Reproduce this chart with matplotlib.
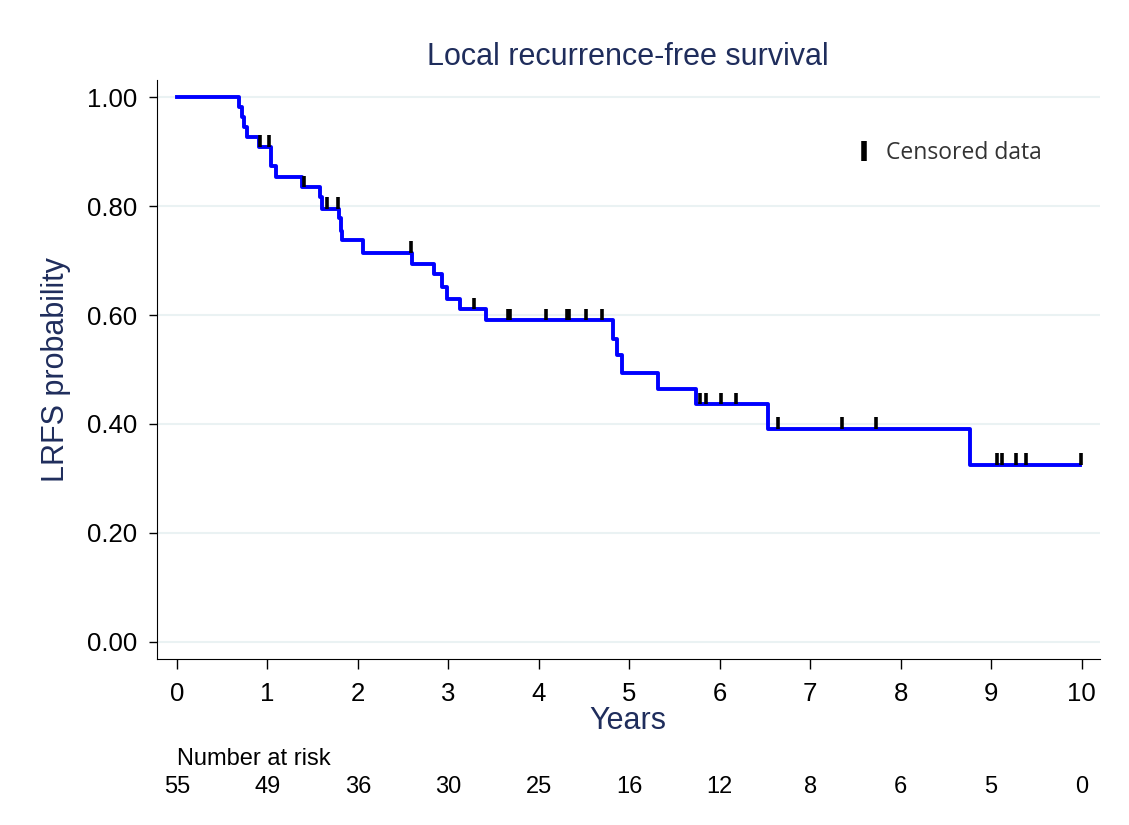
import numpy as np
import matplotlib
matplotlib.use('Agg')
import matplotlib.pyplot as plt
from matplotlib.lines import Line2D

plt.rcParams['font.family'] = ['Liberation Sans', 'DejaVu Sans']

# Curva de supervivencia (tiempos de evento y probabilidad tras cada evento)
event_times = [0, 0.69, 0.72, 0.74, 0.78, 0.91, 1.04, 1.10, 1.38, 1.58, 1.60,
               1.79, 1.82, 1.83, 2.06, 2.60, 2.84, 2.93, 2.99, 3.13, 3.42,
               4.82, 4.87, 4.92, 5.32, 5.74, 6.53, 8.77]
survival = [1.0, 0.982, 0.964, 0.945, 0.927, 0.909, 0.873, 0.854, 0.835, 0.817,
            0.795, 0.778, 0.755, 0.737, 0.714, 0.693, 0.676, 0.651, 0.630,
            0.611, 0.590, 0.556, 0.526, 0.494, 0.464, 0.436, 0.391, 0.325]
end_time = 9.98

# Datos censurados
censor_times = [0.92, 1.02, 1.41, 1.66, 1.78, 2.59, 3.28, 3.66, 3.68, 4.08,
                4.31, 4.33, 4.52, 4.70, 5.78, 5.85, 6.02, 6.18, 6.64, 7.35,
                7.73, 9.06, 9.12, 9.28, 9.39, 9.99]

# Tabla de pacientes en riesgo
risk_years = list(range(11))
at_risk = [55, 49, 36, 30, 25, 16, 12, 8, 6, 5, 0]

navy = '#1f2d5c'

fig = plt.figure(figsize=(11.29, 8.25), dpi=100)
ax = fig.add_axes([0.139, 0.2008, 0.835, 0.702])

# Curva escalonada
xs = event_times + [end_time]
ys = survival + [survival[-1]]
ax.step(xs, ys, where='post', color='#0000ff', linewidth=2.8, zorder=3)

# Marcas de censura (desde el nivel de la curva hacia arriba)
idx = np.searchsorted(event_times, censor_times, side='right') - 1
censor_levels = np.array(survival)[idx]
ax.vlines(censor_times, censor_levels, censor_levels + 0.021,
          color='black', linewidth=2.6, zorder=4)

ax.set_xlim(-0.22, 10.2)
ax.set_ylim(-0.032, 1.031)
ax.set_xticks(risk_years)
ax.set_yticks([0, 0.2, 0.4, 0.6, 0.8, 1.0])
ax.set_yticklabels(['0.00', '0.20', '0.40', '0.60', '0.80', '1.00'])
ax.tick_params(axis='x', length=7, width=1, pad=9, labelsize=18.5)
ax.tick_params(axis='y', length=6, width=1, pad=8, labelsize=18.5)
ax.grid(axis='y', color='#eaf2f3', linewidth=1.5, zorder=0)
ax.set_axisbelow(True)
for side in ['top', 'right']:
    ax.spines[side].set_visible(False)

ax.set_title('Local recurrence-free survival', color=navy, fontsize=22, pad=11)
ax.set_ylabel('LRFS probability', color=navy, fontsize=22, labelpad=12)
ax.set_xlabel('Years', color=navy, fontsize=22, labelpad=0)

# Leyenda
handle = Line2D([], [], color='black', marker='|', linestyle='None',
                markersize=15, markeredgewidth=4)
leg = ax.legend([handle], ['Censored data'], loc='center left',
                bbox_to_anchor=(0.738, 0.874), frameon=False, handlelength=1,
                handletextpad=0.45, borderpad=0, borderaxespad=0,
                prop={'family': 'Open Sans', 'size': 16.5})
for txt in leg.get_texts():
    txt.set_color('#333333')

# Número en riesgo
trans = ax.get_xaxis_transform()
ax.text(0, -0.172, 'Number at risk', transform=trans, ha='left', va='center',
        fontsize=17)
for yr, n in zip(risk_years, at_risk):
    ax.text(yr, -0.22, str(n), transform=trans, ha='center', va='center',
            fontsize=17)

fig.savefig('out.png', dpi=100)
